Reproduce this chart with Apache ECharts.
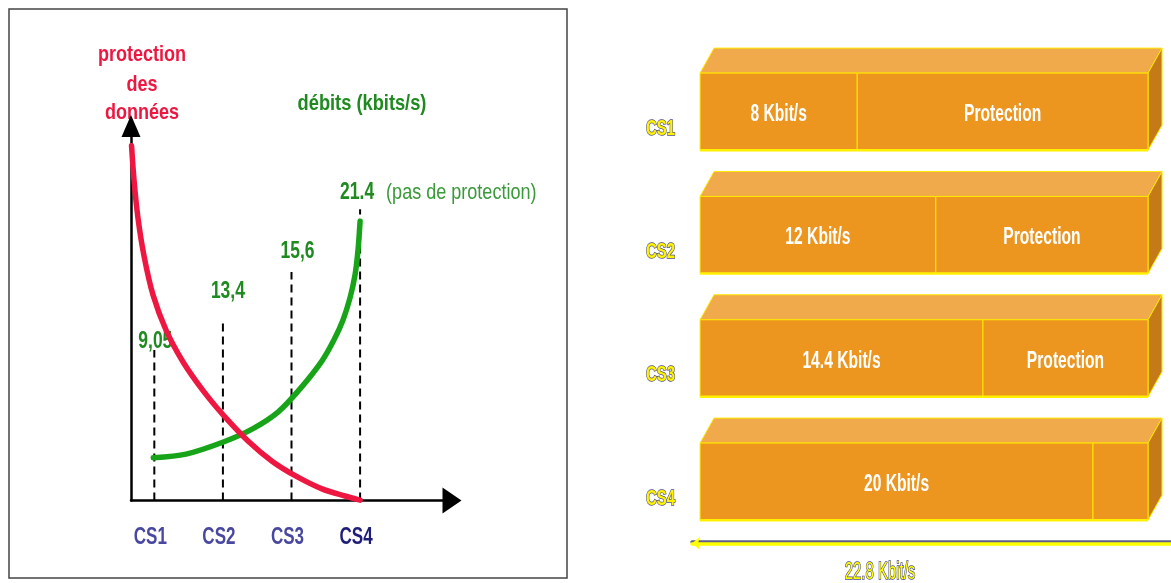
<!DOCTYPE html>
<html>
<head>
<meta charset="utf-8">
<script src="https://cdn.jsdelivr.net/npm/echarts@6/dist/echarts.min.js"></script>
<style>
  html, body { margin: 0; padding: 0; background: #ffffff; }
  #chart { width: 1171px; height: 583px; }
</style>
</head>
<body>
<div id="chart"></div>
<script>
// ---- Left panel: data protection vs. throughput per coding scheme ----
const schemes = ['CS1', 'CS2', 'CS3', 'CS4'];
const schemeRates = ['9,05', '13,4', '15,6', '21.4'];
const markerHeights = [40.2, 47.3, 61.0, 77.8];
const throughputCurve = [
  [0.985, 11.4], [1.462, 12.4], [2.016, 15.7], [2.439, 19.2], [2.803, 23.6], [3.124, 29.8],
  [3.445, 37.3], [3.62, 42.9], [3.751, 48.2], [3.853, 54.1], [3.926, 60.2], [3.97, 66.9], [4.0, 74.6]
];
const protectionCurve = [
  [0.668, 94.7], [0.704, 85.6], [0.762, 75.4], [0.85, 65.3], [0.981, 54.9], [1.171, 45.5],
  [1.419, 37.0], [1.725, 29.0], [2.016, 22.6], [2.366, 15.9], [2.716, 10.5], [3.066, 6.5],
  [3.445, 3.1], [3.781, 1.2], [4.0, 0.1]
];

// ---- Right panel: payload rate vs. protection inside the radio block ----
const dataRates = [8, 12, 14.4, 20];
const channelRate = 22.8;

const SANS = '"Liberation Sans", Arial, sans-serif';
const RED = '#EE1741';
const GREEN_LINE = '#18A418';
const GREEN_TEXT = '#1F8A1F';
const YELLOW = '#FFF200';

// label placement relative to each marker top (dx, dy)
const rateLabelShift = [[1, -8], [5, -32], [6, -20], [-3, -16]];

const chart = echarts.init(document.getElementById('chart'), null, { renderer: 'canvas' });

// condensed text: a normal face squeezed horizontally
function squeezed(text, x, y, opts) {
  return {
    type: 'text', x: x, y: y, scaleX: opts.scale,
    style: {
      text: text, fill: opts.fill,
      font: (opts.weight || 'bold') + ' ' + opts.size + 'px ' + SANS,
      align: opts.align || 'center', verticalAlign: 'middle',
      stroke: opts.stroke, lineWidth: opts.stroke ? (opts.strokeWidth || 1.5) : 0,
      strokeFirst: true
    },
    silent: true
  };
}

const option = {
  backgroundColor: '#ffffff',
  animation: false,
  graphic: [
    { type: 'rect', shape: { x: 9, y: 9, width: 558, height: 569 },
      style: { fill: 'none', stroke: '#444', lineWidth: 1.5 }, silent: true },
    squeezed('protection', 142, 55, { size: 22, scale: 0.82, fill: RED }),
    squeezed('des', 142, 85, { size: 22, scale: 0.82, fill: RED }),
    squeezed('données', 142, 113, { size: 22, scale: 0.82, fill: RED }),
    squeezed('débits (kbits/s)', 362, 104, { size: 22, scale: 0.83, fill: GREEN_TEXT }),
    squeezed(channelRate + ' Kbit/s', 880, 573, { size: 23, scale: 0.65, weight: 'normal',
      fill: '#FFFF00', stroke: '#4A4A88', strokeWidth: 1.5 })
  ],
  grid: [
    { left: 131, top: 126, width: 321, height: 374.5 },
    { left: 692, right: 0, top: 50, bottom: 39.7 }
  ],
  xAxis: [
    {
      gridIndex: 0, type: 'value', min: 0.66, max: 5.34,
      axisLine: { show: true, symbol: ['none', 'triangle'], symbolSize: [26, 19],
        lineStyle: { color: '#000', width: 2.5 } },
      axisTick: { show: false }, splitLine: { show: false }, axisLabel: { show: false }
    },
    {
      gridIndex: 1, type: 'value', min: -0.41, max: 23.97, position: 'bottom',
      axisLine: { show: true, symbol: ['arrow', 'none'], symbolSize: [10, 8],
        lineStyle: { color: '#FFFF00', width: 3.5, shadowColor: '#60608A', shadowOffsetY: -2, shadowBlur: 0 } },
      axisTick: { show: false }, splitLine: { show: false }, axisLabel: { show: false }
    }
  ],
  yAxis: [
    {
      gridIndex: 0, type: 'value', min: 0, max: 100,
      axisLine: { show: true, symbol: ['none', 'triangle'], symbolSize: [19, 22],
        lineStyle: { color: '#000', width: 2.5 } },
      axisTick: { show: false }, splitLine: { show: false }, axisLabel: { show: false }
    },
    {
      gridIndex: 1, type: 'category', inverse: true, data: schemes,
      axisLine: { show: false }, axisTick: { show: false }, splitLine: { show: false },
      axisLabel: { show: false }
    }
  ],
  series: [
    {
      // dashed markers per coding scheme, with rate and scheme labels
      type: 'custom', xAxisIndex: 0, yAxisIndex: 0, z: 2,
      data: markerHeights.map((h, i) => [i + 1, h]),
      renderItem(params, api) {
        const i = params.dataIndex;
        const base = api.coord([api.value(0), 0]);
        const top = api.coord([api.value(0), api.value(1)]);
        const shift = rateLabelShift[i];
        const children = [
          { type: 'line', shape: { x1: base[0], y1: base[1], x2: top[0], y2: top[1] },
            style: { stroke: '#000', lineWidth: 2, lineDash: [8, 5] } },
          squeezed(schemeRates[i], top[0] + shift[0], top[1] + shift[1],
            { size: 23, scale: 0.76, fill: GREEN_TEXT }),
          squeezed(schemes[i], base[0] - 4, base[1] + 37,
            { size: 23, scale: 0.74, fill: i === schemes.length - 1 ? '#1E1E78' : '#4848A0' })
        ];
        if (i === schemes.length - 1) {
          children.push(squeezed('(pas de protection)', top[0] + 26, top[1] + shift[1],
            { size: 22, scale: 0.82, weight: 'normal', fill: '#3A9A3A', align: 'left' }));
        }
        return { type: 'group', children: children };
      }
    },
    {
      type: 'line', name: 'débits', xAxisIndex: 0, yAxisIndex: 0,
      data: throughputCurve, smooth: 0.3, showSymbol: false, symbol: 'none',
      lineStyle: { color: GREEN_LINE, width: 5.5, cap: 'round' }, z: 3
    },
    {
      type: 'line', name: 'protection', xAxisIndex: 0, yAxisIndex: 0,
      data: protectionCurve, smooth: 0.3, showSymbol: false, symbol: 'none',
      lineStyle: { color: RED, width: 5.5, cap: 'round' }, z: 4
    },
    {
      // 3-D blocks: payload share vs. protection share of the channel rate
      type: 'custom', xAxisIndex: 1, yAxisIndex: 1,
      data: dataRates.map((r, i) => [i, r, channelRate]),
      renderItem(params, api) {
        const cat = api.value(0), rate = api.value(1), total = api.value(2);
        const p0 = api.coord([0, cat]);
        const x0 = p0[0], yc = p0[1];
        const xr = api.coord([rate, cat])[0];
        const xt = api.coord([total, cat])[0];
        const band = api.size([0, 1])[1];
        const h = band * 0.625;
        const yT = yc - h / 2, yB = yc + h / 2;
        const dx = 14, dy = 25;
        const edge = '#FFE800';
        const inner = (text, x) => squeezed(text, x, yc + 3, { size: 23, scale: 0.68, fill: '#ffffff' });
        const children = [
          { type: 'polygon', shape: { points: [[x0, yT], [x0 + dx, yT - dy], [xt + dx, yT - dy], [xt, yT]] },
            style: { fill: '#F0A94B', stroke: edge, lineWidth: 1 } },
          { type: 'polygon', shape: { points: [[xt, yT], [xt + dx, yT - dy], [xt + dx, yB - dy], [xt, yB]] },
            style: { fill: '#C47A17', stroke: edge, lineWidth: 1 } },
          { type: 'rect', shape: { x: x0, y: yT, width: xr - x0, height: h },
            style: { fill: '#EC951F', stroke: edge, lineWidth: 1 } },
          { type: 'rect', shape: { x: xr, y: yT, width: xt - xr, height: h },
            style: { fill: '#EC951F', stroke: edge, lineWidth: 1 } },
          { type: 'line', shape: { x1: x0, y1: yB, x2: xt, y2: yB },
            style: { stroke: '#FFF000', lineWidth: 2.5 } },
          inner(rate + ' Kbit/s', (x0 + xr) / 2),
          squeezed(schemes[cat], x0 - 25, yc + 17, { size: 22, scale: 0.68, fill: YELLOW,
            align: 'right', stroke: '#4A4A88', strokeWidth: 1.5 })
        ];
        if (xt - xr > 90) children.push(inner('Protection', (xr + xt) / 2));
        return { type: 'group', children: children };
      }
    }
  ]
};

chart.setOption(option);
</script>
</body>
</html>
